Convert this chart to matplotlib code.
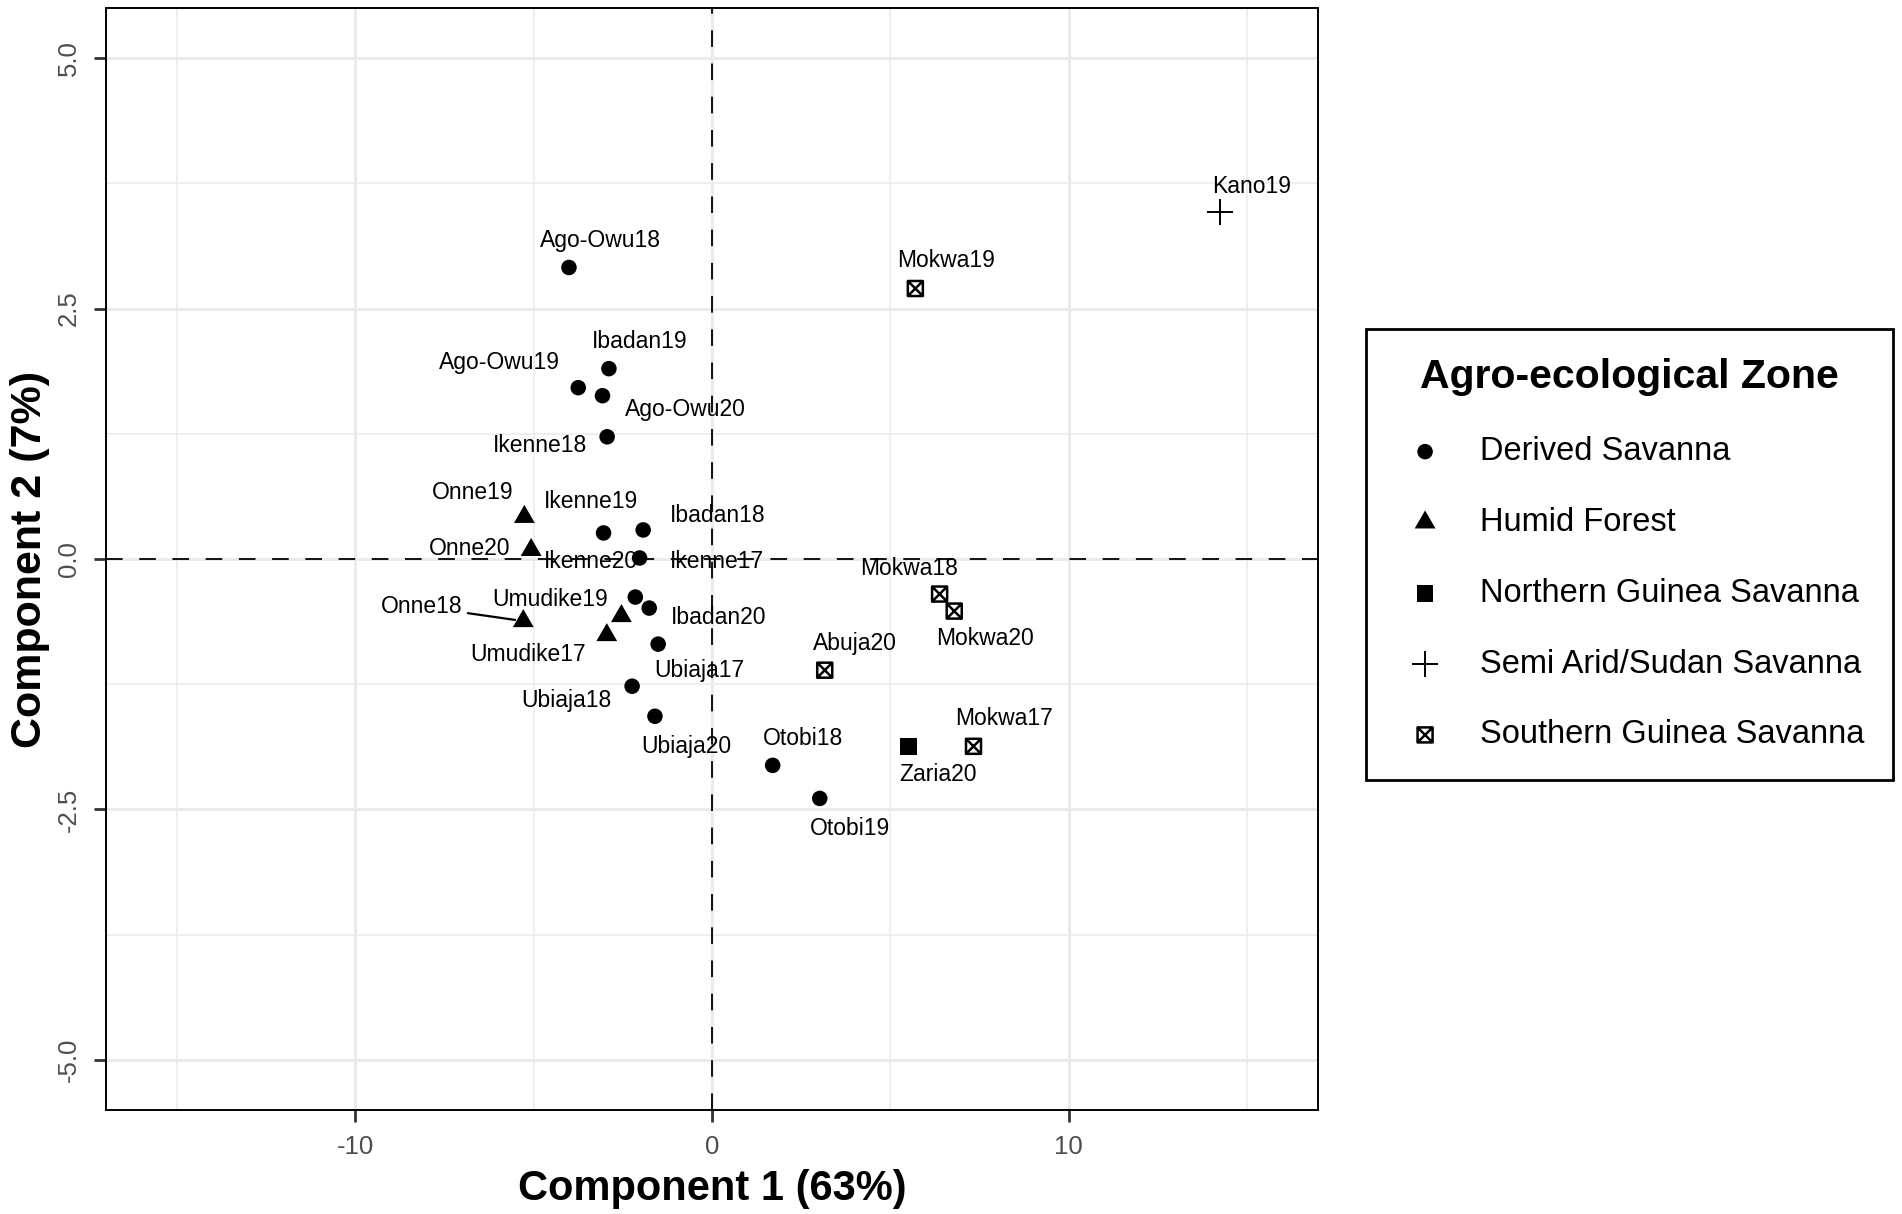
import numpy as np
import matplotlib.pyplot as plt
from matplotlib.path import Path
from matplotlib.ticker import MultipleLocator

plt.rcParams['font.family'] = ['Liberation Sans', 'DejaVu Sans']

# PCA scores (component 1 / component 2)
names = ["Ago-Owu18", "Ago-Owu19", "Ago-Owu20", "Ibadan18", "Ibadan19", "Ibadan20",
         "Ikenne17", "Ikenne18", "Ikenne19", "Ikenne20", "Ubiaja17", "Ubiaja18",
         "Ubiaja20", "Otobi18", "Otobi19",
         "Onne18", "Onne19", "Onne20", "Umudike17", "Umudike19",
         "Zaria20", "Kano19",
         "Abuja20", "Mokwa17", "Mokwa18", "Mokwa19", "Mokwa20"]
zones = ["Derived Savanna"] * 15 + ["Humid Forest"] * 5 + \
        ["Northern Guinea Savanna", "Semi Arid/Sudan Savanna"] + \
        ["Southern Guinea Savanna"] * 5
pc1 = [-4.01, -3.75, -3.07, -1.93, -2.89, -1.76,
       -2.15, -2.94, -3.04, -2.03, -1.51, -2.24,
       -1.60, 1.70, 3.02,
       -5.29, -5.26, -5.07, -2.95, -2.54,
       5.50, 14.23,
       3.16, 7.33, 6.38, 5.70, 6.79]
pc2 = [2.91, 1.71, 1.63, 0.29, 1.90, -0.49,
       -0.38, 1.22, 0.26, 0.01, -0.85, -1.27,
       -1.57, -2.06, -2.39,
       -0.62, 0.42, 0.09, -0.76, -0.57,
       -1.87, 3.46,
       -1.11, -1.87, -0.35, 2.70, -0.52]

zone_order = ["Derived Savanna", "Humid Forest", "Northern Guinea Savanna",
              "Semi Arid/Sudan Savanna", "Southern Guinea Savanna"]

x_ticks = [-10, 0, 10]
y_ticks = [-5.0, -2.5, 0.0, 2.5, 5.0]

# label offsets in points, roughly where ggrepel put them
label_offsets = {
    "Ago-Owu18": (22.7, 19.2), "Mokwa19": (21.8, 20.1), "Kano19": (22.7, 18.3),
    "Ibadan19": (21.8, 19.2), "Ago-Owu19": (-56.7, 18.3), "Ago-Owu20": (59.4, -9.6),
    "Ikenne18": (-48.0, -6.1), "Onne19": (-37.5, 17.5), "Ikenne19": (-8.7, 22.7),
    "Ibadan18": (53.3, 10.5), "Onne20": (-44.5, 0.9), "Ikenne20": (-34.9, -2.6),
    "Ikenne17": (58.5, 25.3), "Umudike19": (-51.5, 12.2), "Onne18": (-73.3, 10.5),
    "Ibadan20": (49.8, -7.0), "Umudike17": (-56.7, -14.0), "Mokwa18": (-21.8, 18.3),
    "Mokwa20": (21.8, -20.1), "Abuja20": (21.8, 19.2), "Ubiaja17": (29.7, -19.2),
    "Ubiaja18": (-47.1, -10.5), "Ubiaja20": (22.7, -21.8), "Otobi18": (21.8, 19.2),
    "Mokwa17": (21.8, 20.1), "Zaria20": (21.8, -20.1), "Otobi19": (21.8, -21.8),
}

# marker shapes like ggplot's shapes 16, 17, 15, 3, 7
tri = Path([(0, 0.577), (-0.5, -0.289), (0.5, -0.289), (0, 0.577)],
           [Path.MOVETO, Path.LINETO, Path.LINETO, Path.CLOSEPOLY])
sq_cross = Path([(-1, -1), (1, -1), (1, 1), (-1, 1), (-1, -1),
                 (-1, -1), (1, 1), (-1, 1), (1, -1)],
                [Path.MOVETO, Path.LINETO, Path.LINETO, Path.LINETO, Path.CLOSEPOLY,
                 Path.MOVETO, Path.LINETO, Path.MOVETO, Path.LINETO])
styles = {
    "Derived Savanna": dict(marker='o', s=125, facecolors='black', edgecolors='none'),
    "Humid Forest": dict(marker=tri, s=300, facecolors='black', edgecolors='none'),
    "Northern Guinea Savanna": dict(marker='s', s=144, facecolors='black', edgecolors='none'),
    "Semi Arid/Sudan Savanna": dict(marker='+', s=340, color='black', linewidths=1.4),
    "Southern Guinea Savanna": dict(marker=sq_cross, s=117, facecolors='none',
                                    edgecolors='black', linewidths=1.8),
}

fig = plt.figure(figsize=(19.02, 12.14), dpi=100)
ax = fig.add_axes([0.0555, 0.0857, 0.6377, 0.9077])

x = np.array(pc1)
y = np.array(pc2)
z = np.array(zones)

# grid like theme_bw
ax.set_xlim(-17, 17)
ax.set_ylim(-5.5, 5.5)
ax.set_xticks(x_ticks)
ax.set_xticklabels([str(v) for v in x_ticks])
ax.set_yticks(y_ticks)
ax.set_yticklabels([f"{v:.1f}" for v in y_ticks])
ax.xaxis.set_minor_locator(MultipleLocator(5))
ax.yaxis.set_minor_locator(MultipleLocator(1.25))
ax.grid(which='major', color='#ebebeb', lw=2.2)
ax.grid(which='minor', color='#ebebeb', lw=1.1)
ax.set_axisbelow(True)

ax.axhline(0, color='black', lw=1.3, dashes=(9.2, 9.2), zorder=1.5)
ax.axvline(0, color='black', lw=1.3, dashes=(9.2, 9.2), zorder=1.5)

for zone in zone_order:
    m = z == zone
    ax.scatter(x[m], y[m], label=zone, zorder=3, **styles[zone])

for i, name in enumerate(names):
    arrow = None
    if name == "Onne18":
        arrow = dict(arrowstyle='-', color='black', lw=1.6, shrinkA=2, shrinkB=6)
    ax.annotate(name, (pc1[i], pc2[i]), xytext=label_offsets[name],
                textcoords='offset points', ha='center', va='center',
                fontsize=16.5, color='black', arrowprops=arrow, zorder=4)

for sp in ax.spines.values():
    sp.set_linewidth(1.4)
    sp.set_color('black')

ax.tick_params(which='major', length=8.6, width=2, color='#333333', pad=9.4,
               labelsize=18.5, labelcolor='#4d4d4d')
ax.tick_params(which='minor', length=0)
ax.tick_params(axis='y', labelrotation=90)
for lbl in ax.get_yticklabels():
    lbl.set_va('center')

ax.set_xlabel("Component 1 (63%)", fontsize=30, fontweight='bold')
ax.xaxis.set_label_coords(0.5, -0.0717)
ax.xaxis.label.set_va('center')
ax.set_ylabel("Component 2 (7%)", fontsize=31, fontweight='bold')
ax.yaxis.set_label_coords(-0.0625, 0.5)
ax.yaxis.label.set_va('center')

leg = ax.legend(title="Agro-ecological Zone", loc='upper left',
                bbox_to_anchor=(1366 / 1902, 1 - 329 / 1214),
                bbox_transform=fig.transFigure, borderaxespad=0,
                fontsize=23.5, title_fontproperties={'weight': 'bold', 'size': 29.5},
                frameon=True, fancybox=False, edgecolor='black', framealpha=1,
                borderpad=0.9, labelspacing=1.22, handlelength=1.82,
                handletextpad=0.76, scatterpoints=1)
leg.get_frame().set_linewidth(2.0)

fig.savefig("out.png", dpi=100)
